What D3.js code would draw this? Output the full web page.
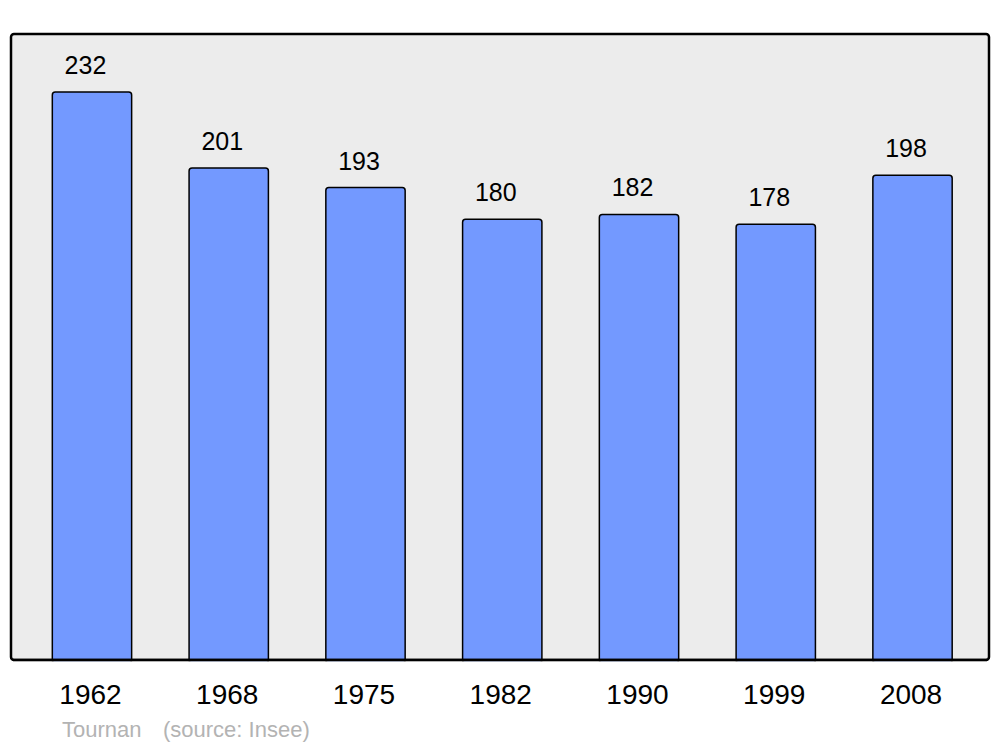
<!DOCTYPE html>
<html><head><meta charset="utf-8">
<script src="https://cdn.jsdelivr.net/npm/d3@7"></script>
<style>body{margin:0;background:#fff}svg{display:block;font-family:"Liberation Sans",Arial,sans-serif}</style>
</head><body>
<svg id="c" width="1000" height="747"></svg>
<script>
const years = ["1962","1968","1975","1982","1990","1999","2008"];
const population = [232,201,193,180,182,178,198];
const commune = "Tournan";
const source = "(source: Insee)";

const svg = d3.select("#c");
const frame = {x0: 11, x1: 989, y0: 34, y1: 660};

svg.append("rect").attr("x", frame.x0).attr("y", frame.y0)
  .attr("width", frame.x1 - frame.x0).attr("height", frame.y1 - frame.y0)
  .attr("rx", 3).attr("fill", "#ececec").attr("stroke", "none");

const x = d3.scaleBand().domain(years).range([23.6, 980.9]).paddingInner(0.42).paddingOuter(0.21);
const y = d3.scaleLinear().domain([0, 255.7]).range([frame.y1, frame.y0]);

const data = years.map((yr, i) => ({yr, v: population[i]}));

svg.append("g").selectAll("rect").data(data).join("rect")
  .attr("x", d => x(d.yr)).attr("y", d => y(d.v))
  .attr("width", x.bandwidth()).attr("height", d => y(0) - y(d.v) + 3)
  .attr("rx", 3).attr("fill", "#7399ff").attr("stroke", "#000").attr("stroke-width", 1.5);

svg.append("rect").attr("x", frame.x0).attr("y", frame.y0)
  .attr("width", frame.x1 - frame.x0).attr("height", frame.y1 - frame.y0)
  .attr("rx", 3).attr("fill", "none").attr("stroke", "#000").attr("stroke-width", 2.5);

svg.append("rect").attr("x", 0).attr("y", frame.y1 + 1.25).attr("width", 1000).attr("height", 10).attr("fill", "#fff");
svg.append("line").attr("x1", frame.x0 + 2).attr("x2", frame.x1 - 2).attr("y1", frame.y1).attr("y2", frame.y1)
  .attr("stroke", "#000").attr("stroke-width", 2.5);

svg.append("g").selectAll("text").data(data).join("text")
  .attr("x", d => x(d.yr) + x.bandwidth() / 2 - 6.5).attr("y", d => y(d.v) - 18)
  .attr("text-anchor", "middle").attr("font-size", 25).attr("fill", "#000")
  .text(d => d.v);

const xAxis = d3.axisBottom(x).tickSize(0).tickPadding(0);
const ax = svg.append("g").attr("transform", `translate(-1.5,${frame.y1})`).call(xAxis);
ax.select(".domain").remove();
ax.selectAll("text").attr("font-size", 28).attr("font-family", '"Liberation Sans",Arial,sans-serif')
  .attr("fill", "#000").attr("dy", null).attr("y", 44);

const src = svg.append("text").attr("x", 62).attr("y", 737).attr("font-size", 22).attr("fill", "#b3b3b3");
src.append("tspan").text(commune);
src.append("tspan").attr("x", 163).text(source);
</script>
</body></html>
